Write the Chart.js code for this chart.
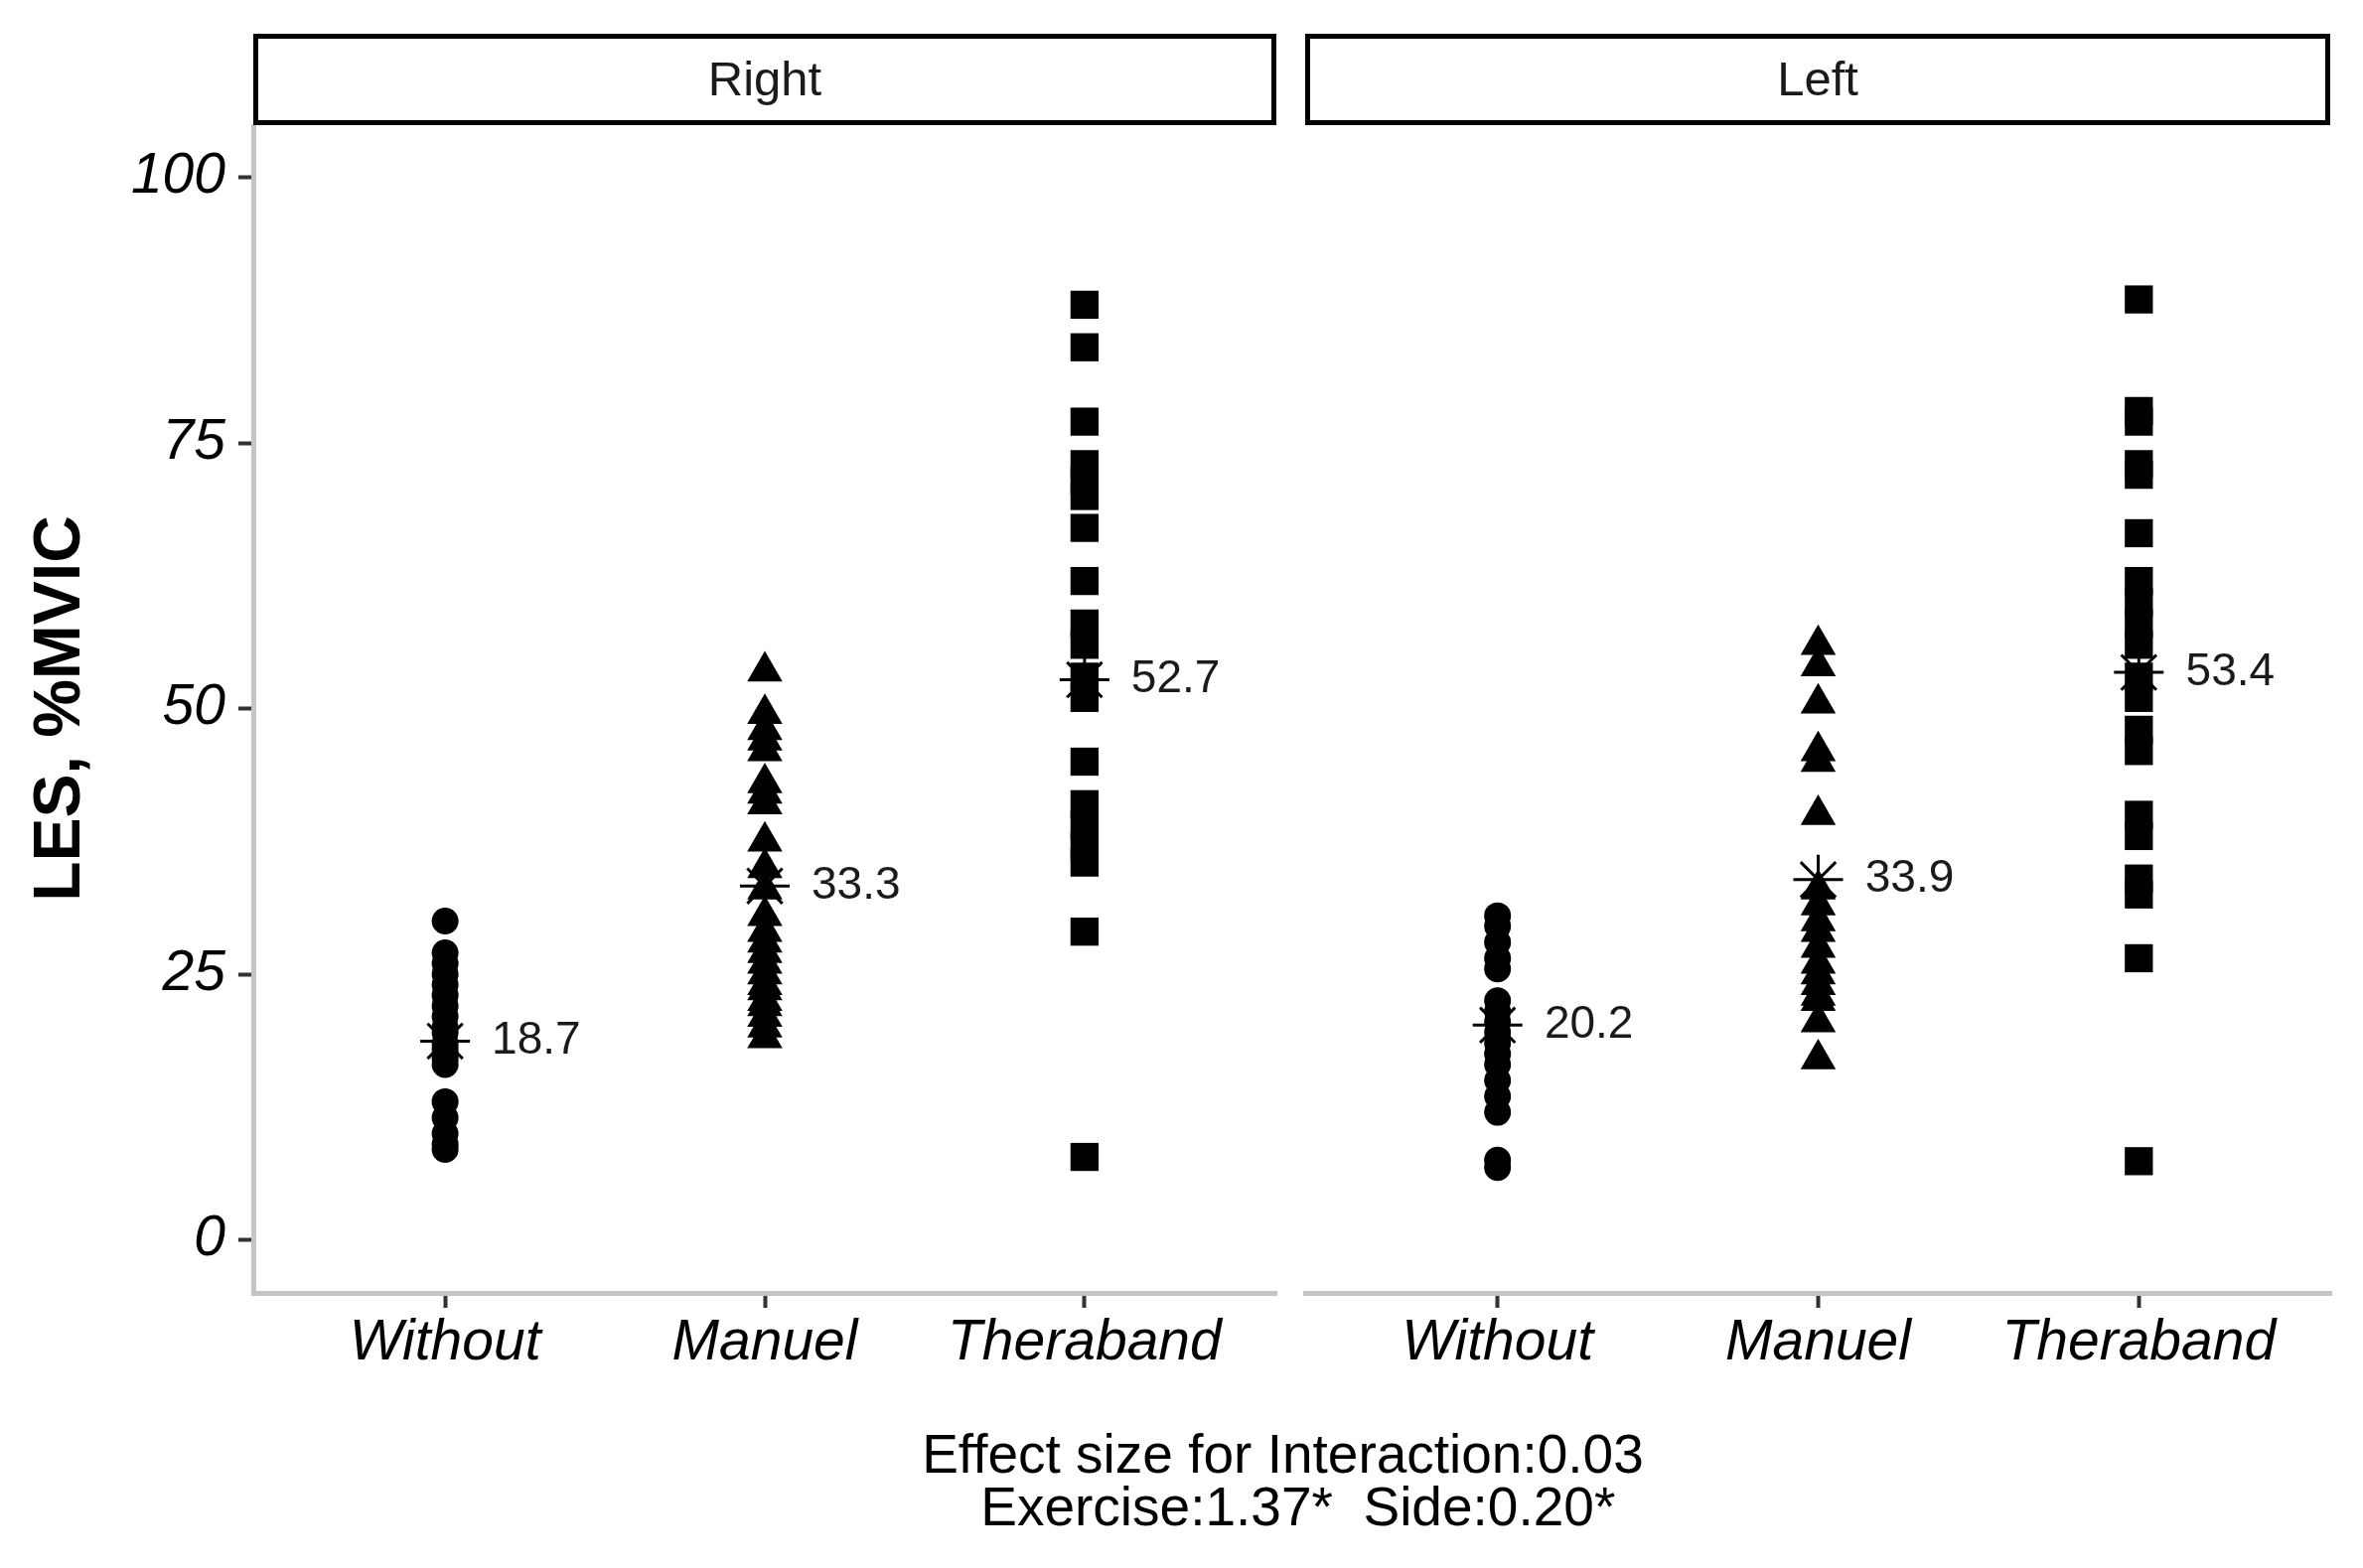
<!DOCTYPE html>
<html>
<head>
<meta charset="utf-8">
<script src="https://cdn.jsdelivr.net/npm/chart.js@4.4.1/dist/chart.umd.min.js"></script>
<style>
  body { margin: 0; background: #fff; width: 2379px; height: 1579px; overflow: hidden; position: relative; font-family: "Liberation Sans", Arial, sans-serif; }
  canvas { position: absolute; }
  .strip { position: absolute; top: 34px; height: 92px; box-sizing: border-box; border: 5px solid #000; background: #fff;
           font-size: 49px; color: #1a1a1a; text-align: center; line-height: 80px; }
  .caption { position: absolute; left: 245px; width: 2093px; text-align: center; font-size: 55px; color: #000; white-space: pre; line-height: 56px; }
</style>
</head>
<body>
<canvas id="chartRight" width="1300" height="1454" style="left:0;top:125px;"></canvas>
<canvas id="chartLeft" width="1078" height="1454" style="left:1301px;top:125px;"></canvas>
<div class="strip" style="left:255px;width:1030px;">Right</div>
<div class="strip" style="left:1314px;width:1032px;">Left</div>
<div class="caption" style="top:1436px;">Effect size for Interaction:0.03</div>
<div class="caption" style="top:1489px;">  Exercise:1.37*  Side:0.20*</div>
<script>
var categories = ['Without', 'Manuel', 'Theraband'];
var yTicks = [0, 25, 50, 75, 100];

// Right side, %MVIC per subject
var rightWithout = [30, 27, 26, 25, 24, 23, 22, 21, 20, 19.5, 18.5, 18, 17.5, 17, 16.5, 13, 11.5, 10, 9, 8.5];
var rightManuel = [53.5, 49.5, 48, 47, 46, 43, 42, 41, 37.5, 35, 33, 30.5, 29, 28, 27, 26, 25, 24, 23.5, 22.5, 22, 21, 20, 19];
var rightTheraband = [88, 84, 77, 73, 71.5, 70, 67, 62, 58, 56, 53, 51, 45, 41, 39, 37, 35.5, 29, 7.8];
var rightMeans = [18.7, 33.3, 52.7];

// Left side
var leftWithout = [30.5, 29.5, 28, 26.5, 25.5, 22.5, 21.5, 20.5, 19.5, 18.5, 17.5, 16.5, 15, 13.5, 12, 7.5, 6.8];
var leftManuel = [56, 54, 50.5, 46, 45, 40, 33, 31.5, 30, 29, 27.5, 26, 25, 24, 23, 22.5, 20.5, 17];
var leftTheraband = [88.5, 78, 77, 73, 72, 66.5, 62, 60, 58, 56, 53, 51, 48, 46, 40, 38, 34, 32.5, 26.5, 7.4];
var leftMeans = [20.2, 33.9, 53.4];

var shapes = ['circle', 'triangle', 'rect'];
var sizes = [13.5, 20.5, 20];

var meanLabels = {
    id: 'meanLabels',
    afterDatasetsDraw: function(chart) {
        var ctx = chart.ctx;
        var xs = chart.scales.x, ys = chart.scales.y;
        chart.data.datasets.forEach(function(ds) {
            if (!ds.isMean) return;
            ds.data.forEach(function(p) {
                ctx.save();
                ctx.font = '46px "Liberation Sans", Arial, sans-serif';
                ctx.fillStyle = '#1a1a1a';
                ctx.textAlign = 'center';
                ctx.textBaseline = 'middle';
                ctx.fillText(p.y.toFixed(1), xs.getPixelForValue(p.x + 0.285), ys.getPixelForValue(p.y));
                ctx.restore();
            });
        });
    }
};

function buildDatasets(groups, means) {
    var ds = [];
    for (var i = 0; i < groups.length; i++) {
        ds.push({
            data: groups[i].map(function(v) { return { x: i + 1, y: v }; }),
            pointStyle: shapes[i],
            pointRadius: sizes[i],
            pointBorderWidth: 0,
            backgroundColor: '#000',
            borderColor: '#000'
        });
    }
    ds.push({
        isMean: true,
        data: means.map(function(m, i) { return { x: i + 1, y: m }; }),
        pointStyle: 'star',
        pointRadius: 25,
        pointBorderWidth: 3,
        backgroundColor: '#000',
        borderColor: '#000'
    });
    return ds;
}

function makeChart(id, groups, means, showY, padLeft, padRight) {
    var canvas = document.getElementById(id);
    var H = canvas.height;
    return new Chart(canvas, {
        type: 'scatter',
        data: { datasets: buildDatasets(groups, means) },
        plugins: [meanLabels],
        options: {
            responsive: false,
            devicePixelRatio: 1,
            animation: false,
            layout: { autoPadding: false, padding: { left: padLeft, right: padRight, top: 0, bottom: 0 } },
            plugins: { legend: { display: false }, tooltip: { enabled: false } },
            scales: {
                x: {
                    type: 'linear',
                    min: 0.4,
                    max: 3.6,
                    afterBuildTicks: function(s) { s.ticks = [1, 2, 3].map(function(v) { return { value: v }; }); },
                    afterFit: function(s) {
                        s.height = H - 1177;
                        s.paddingLeft = 0;
                        s.paddingRight = 0;
                    },
                    ticks: {
                        callback: function(v) { return categories[v - 1]; },
                        font: { family: '"Liberation Sans", Arial, sans-serif', size: 57, style: 'italic' },
                        color: '#000',
                        padding: 2,
                        maxRotation: 0,
                        autoSkip: false
                    },
                    grid: { drawOnChartArea: false, tickLength: 15, tickColor: '#333', tickWidth: 4 },
                    border: { display: true, color: '#c4c4c4', width: 5 }
                },
                y: {
                    display: showY,
                    min: -5,
                    max: 105,
                    afterBuildTicks: function(s) { s.ticks = yTicks.map(function(v) { return { value: v }; }); },
                    afterFit: function(s) {
                        s.width = showY ? 255 : 0;
                        s.paddingTop = 0;
                        s.paddingBottom = 0;
                    },
                    title: {
                        display: true,
                        text: 'LES, %MVIC',
                        color: '#000',
                        font: { family: '"Liberation Sans", Arial, sans-serif', size: 66, weight: 'bold' },
                        padding: { top: 22, bottom: 0 }
                    },
                    ticks: {
                        font: { family: '"Liberation Sans", Arial, sans-serif', size: 57, style: 'italic' },
                        color: '#000',
                        padding: 13
                    },
                    grid: { drawOnChartArea: false, tickLength: 15, tickColor: '#333', tickWidth: 4 },
                    border: { display: true, color: '#c4c4c4', width: 5 }
                }
            }
        }
    });
}

makeChart('chartRight', [rightWithout, rightManuel, rightTheraband], rightMeans, true, 0, 15);
makeChart('chartLeft', [leftWithout, leftManuel, leftTheraband], leftMeans, false, 13, 32);
</script>
</body>
</html>
